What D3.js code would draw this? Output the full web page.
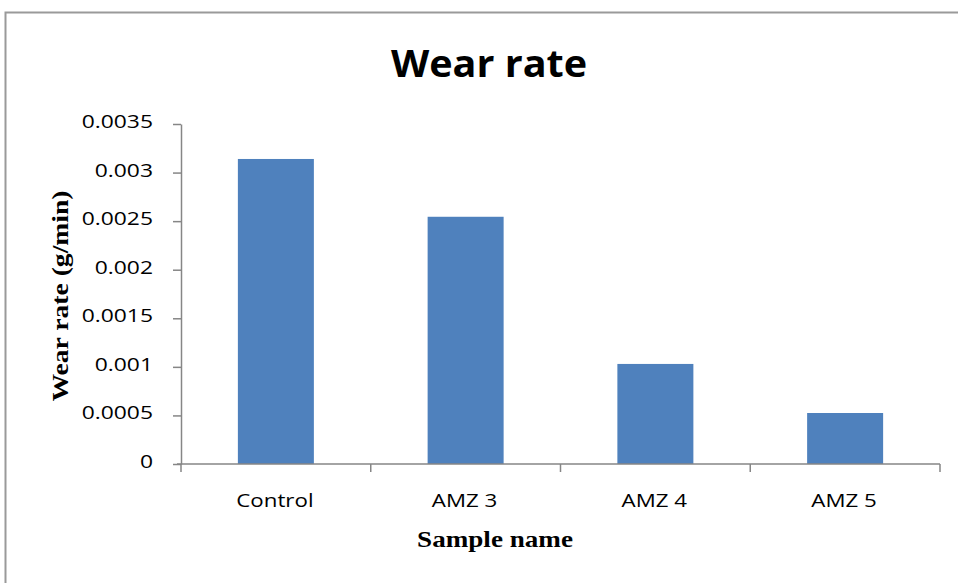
<!DOCTYPE html>
<html>
<head>
<meta charset="utf-8">
<script src="https://cdn.jsdelivr.net/npm/d3@7"></script>
<style>
  html, body { margin: 0; padding: 0; background: #fff; }
  svg { display: block; }
</style>
</head>
<body>
<script>
// Wear rate per sample (g/min)
const categories = ["Control", "AMZ 3", "AMZ 4", "AMZ 5"];
const wearRates = [0.00314, 0.002545, 0.00103, 0.000525];
const yTicks = [0, 0.0005, 0.001, 0.0015, 0.002, 0.0025, 0.003, 0.0035];
const yTickLabels = ["0", "0.0005", "0.001", "0.0015", "0.002", "0.0025", "0.003", "0.0035"];

const W = 958, H = 583;
const plot = { left: 181, right: 940, top: 124, bottom: 464 };

const svg = d3.select("body").append("svg").attr("width", W).attr("height", H);

// Chart area frame
svg.append("rect")
  .attr("x", 5.5).attr("y", 12.5)
  .attr("width", W + 10).attr("height", H + 10)
  .attr("fill", "#fff").attr("stroke", "#9a9a9a").attr("stroke-width", 2);

const x = d3.scaleBand().domain(categories).range([plot.left, plot.right]);
const y = d3.scaleLinear().domain([0, 0.0035]).range([plot.bottom, plot.top]);
const barWidth = 76;

// Bars
svg.append("g").selectAll("rect").data(categories).join("rect")
  .attr("x", d => x(d) + (x.bandwidth() - barWidth) / 2)
  .attr("width", barWidth)
  .attr("y", (d, i) => y(wearRates[i]))
  .attr("height", (d, i) => y(0) - y(wearRates[i]))
  .attr("fill", "#4F81BD");

const axisColor = "#868686";
const tickFont = "'Open Sans', 'Noto Sans', sans-serif";

// Text helper: horizontally widened glyphs, anchored at (tx, ty)
function wideText(parent, tx, ty, str, opts) {
  const g = parent.append("g")
    .attr("transform", `translate(${tx},${ty}) rotate(${opts.rotate || 0}) scale(${opts.sx || 1},1)`);
  return g.append("text")
    .attr("text-anchor", opts.anchor || "middle")
    .style("font-family", opts.family)
    .style("font-weight", opts.weight || "normal")
    .style("font-size", opts.size + "px")
    .attr("fill", "#000")
    .text(str);
}

// Y axis
const yAxis = svg.append("g").attr("transform", `translate(${plot.left},0)`)
  .call(d3.axisLeft(y).tickValues(yTicks).tickFormat("").tickSizeInner(8).tickSizeOuter(0));
yAxis.select(".domain").attr("stroke", axisColor).attr("stroke-width", 1.5);
yAxis.selectAll(".tick line").attr("stroke", axisColor).attr("stroke-width", 1.5);
yTicks.forEach((v, i) => {
  wideText(svg, 153, y(v) + 4, yTickLabels[i], { anchor: "end", family: tickFont, size: 18, sx: 1.27 });
});

// X axis with ticks on category boundaries
const xAxisG = svg.append("g").attr("transform", `translate(0,${plot.bottom})`);
xAxisG.append("line").attr("x1", plot.left - 4).attr("x2", plot.right).attr("y1", 0).attr("y2", 0)
  .attr("stroke", axisColor).attr("stroke-width", 1.5);
const boundaries = categories.map(c => x(c)).concat([plot.right]);
xAxisG.selectAll("line.tk").data(boundaries).join("line").attr("class", "tk")
  .attr("x1", d => d).attr("x2", d => d).attr("y1", 0).attr("y2", 8)
  .attr("stroke", axisColor).attr("stroke-width", 1.5);
categories.forEach(c => {
  wideText(svg, x(c) + x.bandwidth() / 2 - 1, plot.bottom + 43, c, { family: tickFont, size: 18, sx: 1.24 });
});

// Title
wideText(svg, 489, 77, "Wear rate", { family: "'Open Sans', sans-serif", weight: "bold", size: 37, sx: 1.07 });

// Axis titles
wideText(svg, 495, 547, "Sample name", { family: "'Liberation Serif', 'Times New Roman', serif", weight: "bold", size: 24, sx: 1.13 });
wideText(svg, 68, 296, "Wear rate (g/min)", { family: "'Liberation Serif', 'Times New Roman', serif", weight: "bold", size: 24, sx: 1.15, rotate: -90 });
</script>
</body>
</html>
